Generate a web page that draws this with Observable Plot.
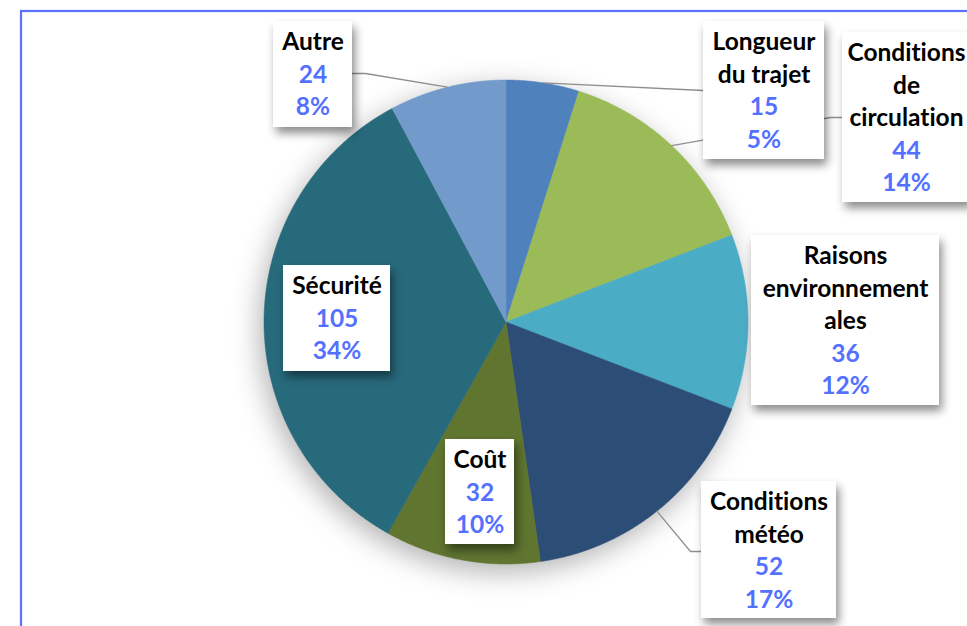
<!DOCTYPE html>
<html><head><meta charset="utf-8">
<script src="https://cdn.jsdelivr.net/npm/d3@7"></script>
<script src="https://cdn.jsdelivr.net/npm/@observablehq/plot@0.6"></script>
<style>html,body{margin:0;padding:0;background:#fff;overflow:hidden} svg text{font-variant-ligatures:none;font-feature-settings:"liga" 0}</style>
</head><body><div id="chart"></div>
<script>
// ---- data ----
const categories = ["Longueur du trajet","Conditions de circulation","Raisons environnementales","Conditions météo","Coût","Sécurité","Autre"];
const values = [15,44,36,52,32,105,24];
const labelLines = [["Longueur","du trajet"],["Conditions","de","circulation"],["Raisons","environnement","ales"],["Conditions","météo"],["Coût"],["Sécurité"],["Autre"]];
const colors = ["#4F81BD","#9BBB59","#4BACC6","#2C4D75","#5F7530","#276A7C","#729ACA"];

// ---- layout ----
const W = 967, H = 626, cx = 505.5, cy = 321.5, R = 242;
const boxes = [ // label boxes: left, top, right, bottom
  [703,21,824,159],[842,32,970,202],[751,235,939,405],[701,481,836,618],
  [445,439,514,544],[283,265,390,371],[273,21,352,127]
];
// leader lines: elbow + box attachment (null = no leader)
const leaders = [
  [[703,90]], [[830,117],[842,117]], null, [[690,551],[701,551]], null, null, [[365,73],[352,73]]
];
const lineStep = 32.5, padTop = 21;
const FONT = "Lato, 'Open Sans', sans-serif", FS = 24.5;
const BLUE = "#5470ff";

const total = d3.sum(values);
const arcs = d3.pie().sort(null).value(d => d)(values);
const polar = (a, r) => [cx + r * Math.sin(a), cy - r * Math.cos(a)];

// slice polygons
const slicePts = [];
arcs.forEach((a, i) => {
  slicePts.push({name: categories[i], x: cx, y: cy});
  const n = Math.max(2, Math.ceil((a.endAngle - a.startAngle) / 0.005));
  for (let k = 0; k <= n; k++) {
    const t = a.startAngle + (a.endAngle - a.startAngle) * k / n;
    const [x, y] = polar(t, R);
    slicePts.push({name: categories[i], x, y});
  }
  slicePts.push({name: categories[i], x: cx, y: cy});
});

// leader line points
const leaderPts = [];
arcs.forEach((a, i) => {
  if (!leaders[i]) return;
  const [x, y] = polar((a.startAngle + a.endAngle) / 2, R);
  leaderPts.push({name: categories[i], x, y});
  leaders[i].forEach(([px, py]) => leaderPts.push({name: categories[i], x: px, y: py}));
});

const boxData = boxes.map((b, i) => ({name: categories[i], x1: b[0], y1: b[1], x2: b[2], y2: b[3]}));
const nameRows = [], valueRows = [];
boxes.forEach((b, i) => {
  const xc = (b[0] + b[2]) / 2;
  const lines = labelLines[i];
  lines.forEach((t, k) => nameRows.push({x: xc, y: b[1] + padTop + k * lineStep, text: t}));
  valueRows.push({x: xc, y: b[1] + padTop + lines.length * lineStep, text: String(values[i])});
  valueRows.push({x: xc, y: b[1] + padTop + (lines.length + 1) * lineStep, text: Math.round(values[i] / total * 100) + "%"});
});

const chart = Plot.plot({
  width: W, height: H, margin: 0,
  x: {domain: [0, W], range: [0, W], axis: null},
  y: {domain: [0, H], range: [0, H], axis: null},
  color: {domain: categories, range: colors},
  style: {background: "#fff"},
  marks: [
    Plot.rect([0], {x1: () => 21, x2: () => 1000, y1: () => 11, y2: () => 700, fill: "none", stroke: "#5a72ff", strokeWidth: 2.2}),
    Plot.line(slicePts, {x: "x", y: "y", z: "name", fill: "name", stroke: "name", strokeWidth: 0.5, curve: "linear",
      imageFilter: "drop-shadow(-4px 8px 14px rgba(0,0,0,0.30))"}),
    Plot.line(leaderPts, {x: "x", y: "y", z: "name", stroke: "#8f8f8f", strokeWidth: 1.3}),
    Plot.rect(boxData, {x1: "x1", x2: "x2", y1: "y1", y2: "y2", fill: "white",
      imageFilter: "drop-shadow(3px 6px 5px rgba(0,0,0,0.45))"}),
    Plot.text(nameRows, {x: "x", y: "y", text: "text", fill: "black", fontFamily: FONT, fontWeight: "bold", fontSize: FS}),
    Plot.text(valueRows, {x: "x", y: "y", text: "text", fill: BLUE, fontFamily: FONT, fontWeight: "bold", fontSize: FS})
  ]
});
document.getElementById("chart").append(chart);
</script>
</body></html>
